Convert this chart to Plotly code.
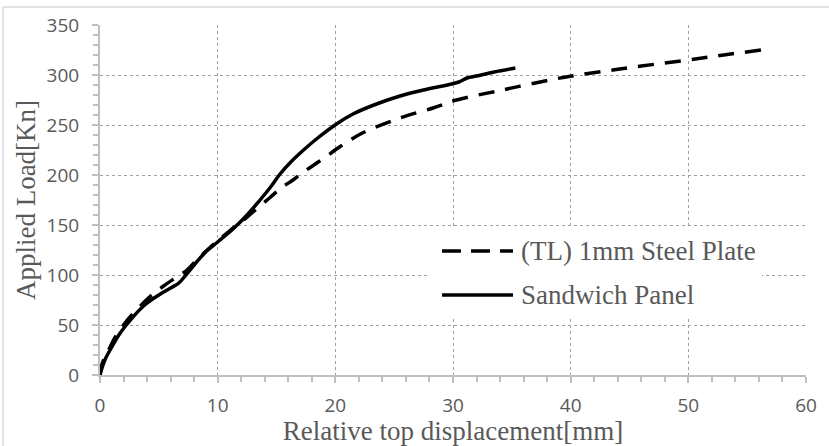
import plotly.graph_objects as go

# Load–displacement curves
tl_disp = [0, 0.15, 0.5, 0.9, 1.3, 2.0, 2.7, 3.6, 4.4, 5.4, 6.4, 7.3, 8.3, 9.3, 10.0,
           11.0, 12.0, 13.0, 14.4, 15.4, 16.4, 17.3, 18.3, 19.3, 20.1, 22.3, 25.5,
           28.3, 30.3, 34.2, 38.2, 40.1, 43.0, 46.0, 50.0, 53.0, 56.2]
tl_load = [0, 10, 20, 29, 38, 50, 60, 71, 80, 89, 97, 104, 116, 127, 134,
           144, 153, 163, 177, 187, 195, 203, 211, 219, 226, 242, 257,
           267, 275, 285, 295, 299, 304, 309, 315, 320, 325]

sw_disp = [0, 0.2, 0.45, 1.0, 1.6, 2.1, 2.8, 3.8, 5.0, 6.0, 6.7, 7.3, 8.0, 8.9, 10.0,
           11.3, 12.5, 13.6, 14.5, 15.3, 16.3, 17.3, 18.5, 20.1, 21.5, 23.5, 25.5,
           27.5, 29.5, 30.5, 31.2, 32.0, 33.5, 35.3]
sw_load = [0, 8, 16, 28, 40, 48, 58, 70, 80, 87, 92, 100, 110, 122, 133,
           146, 160, 175, 188, 201, 214, 225, 237, 251, 261, 271, 279,
           285, 290, 293, 297, 299, 303, 307]

series_names = ["(TL) 1mm Steel Plate", "Sandwich Panel"]
x_ticks = [0, 10, 20, 30, 40, 50, 60]
y_ticks = [0, 50, 100, 150, 200, 250, 300, 350]

SERIF = "Liberation Serif"
SANS = "Open Sans"
TEXT_GRAY = "#595959"
AXIS_GRAY = "#bfbfbf"
GRID_GRAY = "#a0a0a0"
TL_DASH = "16px,11px"

fig = go.Figure()
fig.add_trace(go.Scatter(x=tl_disp, y=tl_load, mode="lines", name=series_names[0],
                         line=dict(color="black", width=3.5, dash=TL_DASH),
                         line_shape="spline", showlegend=False))
fig.add_trace(go.Scatter(x=sw_disp, y=sw_load, mode="lines", name=series_names[1],
                         line=dict(color="black", width=3.5),
                         line_shape="spline", showlegend=False))

axis_common = dict(
    showline=True, linecolor=AXIS_GRAY, linewidth=2,
    showgrid=True, gridcolor=GRID_GRAY, gridwidth=1, griddash="dot",
    zeroline=False, ticks="outside", ticklen=6, tickwidth=1.5, tickcolor=AXIS_GRAY,
    tickfont=dict(family=SANS, size=19, color=TEXT_GRAY),
)

fig.update_xaxes(range=[0, 60], tickvals=x_ticks, ticktext=[str(v) for v in x_ticks],
                 ticklabelstandoff=6,
                 minor=dict(dtick=2, ticks="outside", ticklen=5, tickcolor=AXIS_GRAY, showgrid=False),
                 title=dict(text="Relative top displacement[mm]", standoff=4,
                            font=dict(family=SERIF, size=27, color=TEXT_GRAY)),
                 **axis_common)
fig.update_yaxes(range=[0, 350], tickvals=y_ticks, ticktext=[str(v) for v in y_ticks],
                 ticklabelstandoff=9,
                 minor=dict(dtick=10, ticks="outside", ticklen=5, tickcolor=AXIS_GRAY, showgrid=False),
                 title=dict(text="Applied Load[Kn]", standoff=3,
                            font=dict(family=SERIF, size=27, color=TEXT_GRAY)),
                 **axis_common)

# Outer chart-area border
fig.add_shape(type="line", xref="paper", yref="paper", x0=-0.1374, x1=1.2, y0=1.0514, y1=1.0514,
              line=dict(color="#d9d9d9", width=1.5))
fig.add_shape(type="line", xref="paper", yref="paper", x0=-0.1374, x1=-0.1374, y0=-0.3, y1=1.0514,
              line=dict(color="#d9d9d9", width=1.5))

# Legend box inside the plot area
fig.add_shape(type="rect", xref="paper", yref="paper", x0=0.4674, x1=0.9377, y0=0.1629, y1=0.42,
              fillcolor="white", line=dict(width=0), layer="above")
legend_rows = [(0.3543, dict(color="black", width=3.5, dash="19px,10px")),
               (0.2286, dict(color="black", width=3.5))]
for name, (ly, lstyle) in zip(series_names, legend_rows):
    fig.add_shape(type="line", xref="paper", yref="paper", x0=0.4844, x1=0.585, y0=ly, y1=ly,
                  line=lstyle, layer="above")
    fig.add_annotation(xref="paper", yref="paper", x=0.5935, y=ly, text=name, showarrow=False,
                       xanchor="left", yanchor="middle",
                       font=dict(family=SERIF, size=27, color=TEXT_GRAY))

fig.update_layout(
    width=829, height=446,
    margin=dict(l=100, r=23, t=25, b=71, autoexpand=False),
    paper_bgcolor="white", plot_bgcolor="white",
    showlegend=False,
)

fig.write_html("out.html")
